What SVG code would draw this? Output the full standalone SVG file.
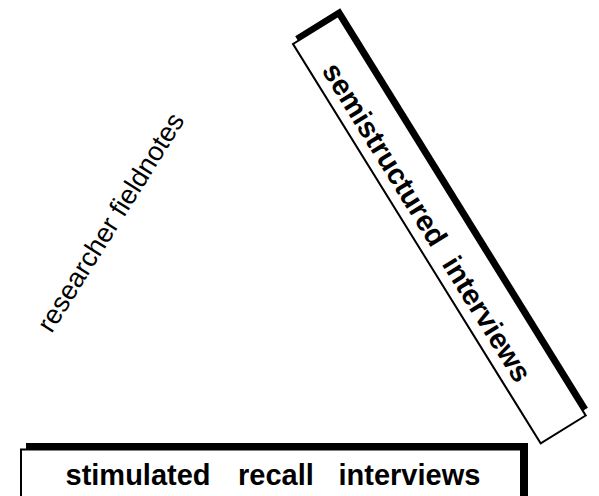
<svg xmlns="http://www.w3.org/2000/svg" width="599" height="496" viewBox="0 0 599 496">
<style>
.bg{fill:#fff}
.shadow{fill:#000;stroke:none}
.box{fill:#fff;stroke:#000;stroke-width:2}
.bold{font-family:"Liberation Sans",Arial,Helvetica,sans-serif;font-weight:bold;font-size:29px;fill:#000}
.plain{font-family:"Liberation Sans",Arial,Helvetica,sans-serif;font-size:27px;fill:#000}
</style>
<rect class="bg" x="0" y="0" width="599" height="496"/>
<g id="connectors"></g>
<g id="node-semistructured" transform="translate(293,44) rotate(58.2)">
<rect class="shadow" x="-5.5" y="-59" width="470" height="53"/>
<rect class="box" x="0" y="-53" width="470" height="53"/>
<text class="bold" y="-10"><tspan x="37.5">semistructured</tspan><tspan x="265">interviews</tspan></text>
</g>
<g id="node-stimulated">
<rect class="shadow" x="26" y="443" width="502" height="60"/>
<rect class="box" x="21" y="449.5" width="500" height="60"/>
<text class="bold" y="485"><tspan x="65.5">stimulated</tspan><tspan x="238">recall</tspan><tspan x="338.5">interviews</tspan></text>
</g>
<g id="node-fieldnotes">
<text class="plain" transform="translate(51.5,334) rotate(-58)">researcher fieldnotes</text>
</g>
</svg>
